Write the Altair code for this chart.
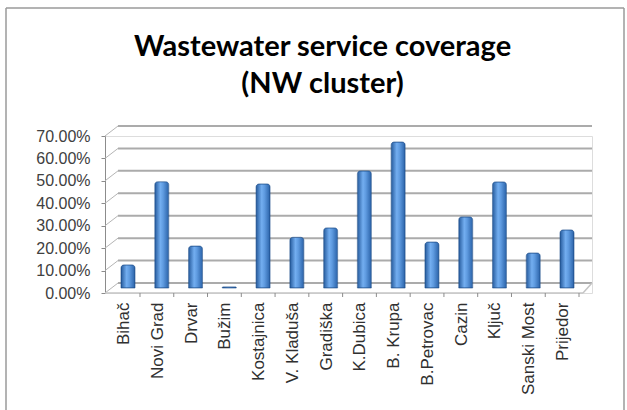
import altair as alt
import pandas as pd

# Share of population served by wastewater collection, NW cluster
sites = ["Bihač", "Novi Grad", "Drvar", "Bužim", "Kostajnica", "V. Kladuša",
         "Gradiška", "K.Dubica", "B. Krupa", "B.Petrovac", "Cazin", "Ključ",
         "Sanski Most", "Prijedor"]
coverage = [0.103, 0.474, 0.187, 0.005, 0.464, 0.226, 0.268, 0.522, 0.651,
            0.205, 0.317, 0.473, 0.156, 0.259]
y_ticks = [0.0, 0.1, 0.2, 0.3, 0.4, 0.5, 0.6, 0.7]

bars_df = pd.DataFrame({"site": sites, "coverage": coverage})
grid_df = pd.DataFrame({"v": y_ticks})

W, H = 487, 157
DEPTH = 10          # pseudo-3D wall depth in px
LIFT = 5            # cylinders stand half-way into the depth
yscale = alt.Scale(domain=[0, 0.7], nice=False, zero=True)
bar_yscale = alt.Scale(domain=[0, 0.7], nice=False, zero=True, range=[H - LIFT, -LIFT])
xscale = alt.Scale(range=[6.1, 478.9], paddingInner=0, paddingOuter=0)

FONT = "Liberation Sans"
yaxis = alt.Axis(values=y_ticks, format=".2%", grid=False, title=None,
                 labelFont=FONT, labelFontSize=16, labelColor="#404040",
                 tickSize=4, tickColor="#8c8c8c", domainColor="#8c8c8c",
                 labelPadding=11)
xaxis = alt.Axis(labelAngle=-90, labelAlign="right", labelBaseline="middle",
                 labelFont=FONT, labelFontSize=17, labelColor="#303030",
                 labelOffset=-4, labelPadding=9, ticks=False, domain=False,
                 labelOverlap=False, title=None)

cyl = alt.LinearGradient(
    gradient="linear", x1=0, x2=1, y1=0, y2=0,
    stops=[alt.GradientStop(offset=0, color="#255a9c"),
           alt.GradientStop(offset=0.4, color="#73aef0"),
           alt.GradientStop(offset=0.6, color="#5f9be0"),
           alt.GradientStop(offset=1, color="#2a62a8")])

# back-wall gridlines (this layer carries the value axis)
grid = alt.Chart(grid_df).mark_rule(color="#ababab", strokeWidth=2, yOffset=-DEPTH).encode(
    y=alt.Y("v:Q", scale=yscale, axis=yaxis),
    x=alt.value(DEPTH + 3), x2=alt.value(W),
)

# side-wall diagonals joining the axis to the back wall
diag = alt.Chart(grid_df).mark_rule(color="#b5b5b5", strokeWidth=1, y2Offset=-DEPTH).encode(
    y=alt.Y("v:Q", scale=yscale, axis=None),
    y2="v:Q",
    x=alt.value(0), x2=alt.value(DEPTH + 3),
)

# floor front edge and right-hand corner
floor_df = pd.DataFrame({"v": [0.0]})
floor = alt.Chart(floor_df).mark_rule(color="#c4c4c4", strokeWidth=1.5).encode(
    y=alt.Y("v:Q", scale=yscale, axis=None),
    x=alt.value(0), x2=alt.value(W - 9),
)
corner = alt.Chart(floor_df).mark_rule(color="#c4c4c4", strokeWidth=1.5, y2Offset=-DEPTH).encode(
    y=alt.Y("v:Q", scale=yscale, axis=None),
    y2="v:Q",
    x=alt.value(W - 9), x2=alt.value(W),
)

# cylinders
bars = alt.Chart(bars_df).mark_bar(
    color=cyl, width=14,
    cornerRadiusTopLeft=3, cornerRadiusTopRight=3,
    stroke="#1f4f8c", strokeWidth=0.6,
).encode(
    x=alt.X("site:N", sort=None, scale=xscale, axis=xaxis),
    y=alt.Y("coverage:Q", scale=bar_yscale, axis=None),
)

# category boundary ticks on the floor edge
ticks = alt.Chart(bars_df).mark_rule(color="#8c8c8c", xOffset=12).encode(
    x=alt.X("site:N", sort=None, scale=xscale, axis=xaxis),
    y=alt.value(H), y2=alt.value(H + 4),
)

# outer frame
frame_df = pd.DataFrame({"k": [0]})
fc = "#9a9a9a"
frame_l = alt.Chart(frame_df).mark_rule(color=fc, strokeWidth=1.5).encode(
    x=alt.value(-99), y=alt.value(-128), y2=alt.value(280))
frame_t = alt.Chart(frame_df).mark_rule(color=fc, strokeWidth=1.5).encode(
    x=alt.value(-99), x2=alt.value(519), y=alt.value(-128))
frame_r = alt.Chart(frame_df).mark_rule(color=fc, strokeWidth=1.5).encode(
    x=alt.value(519), y=alt.value(-128), y2=alt.value(280))

chart = alt.layer(grid, diag, floor, corner, ticks, bars, frame_l, frame_t, frame_r).resolve_scale(
    y="independent"
).properties(
    width=W, height=H,
    autosize=alt.AutoSizeParams(type="none"),
    padding={"left": 105, "top": 136, "right": 35, "bottom": 117},
    title=alt.TitleParams(
        ["Wastewater service coverage", "(NW cluster)"],
        font="Lato", fontSize=29, fontWeight="bold", color="#000000",
        anchor="middle", dx=-26, offset=-92, lineHeight=37,
    ),
).configure_view(stroke=None).configure(background="white")

chart.save("out.html", embed_options={"renderer": "svg", "actions": False})
